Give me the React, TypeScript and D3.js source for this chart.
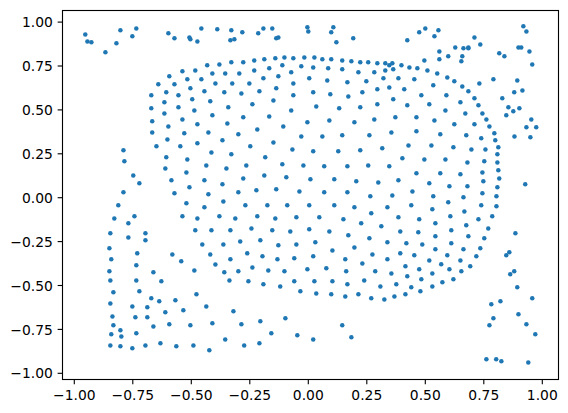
import React from "react";
import * as d3 from "d3";

const WIDTH = 568;
const HEIGHT = 413;
const tickValues = [-1, -0.75, -0.5, -0.25, 0, 0.25, 0.5, 0.75, 1];

const scatteredTop: [number, number][] = [
[-0.953,0.930],[-0.944,0.890],[-0.927,0.885],[-0.867,0.828],[-0.820,0.879],[-0.803,0.953],[-0.752,0.919],[-0.735,0.964],[-0.598,0.936],[-0.572,0.908],[-0.508,0.913],[-0.504,0.902],[-0.474,0.890],[-0.457,0.964],[-0.389,0.959],
[-0.329,0.953],[-0.333,0.896],[-0.316,0.902],[-0.282,0.942],[-0.214,0.936],[-0.192,0.964],[-0.154,0.964],[-0.137,0.908],[-0.128,0.913],[-0.004,0.970],[0.000,0.947],[0.098,0.942],[0.107,0.970],[0.120,0.885],[0.192,0.908],
[0.919,0.976],[0.932,0.947],[0.500,0.964],[0.474,0.942],[0.556,0.953],[0.539,0.919],[0.423,0.896],[0.710,0.913],[0.735,0.873],[0.560,0.833],[0.628,0.856],[0.663,0.851],[0.684,0.856],[0.684,0.851],[0.816,0.822],[0.838,0.805],[0.898,0.856],[0.910,0.856],[0.945,0.833],[0.957,0.759],[0.598,0.805],[0.560,0.788],[0.658,0.805],[0.654,0.777],[0.496,0.782],
[0.731,0.651],[0.791,0.674],[0.893,0.668],[0.880,0.600],[0.915,0.611],[0.829,0.566],[0.855,0.515],[0.876,0.492],[0.902,0.509],[0.846,0.469],[0.953,0.446],[0.932,0.401],[0.974,0.401],
];

const scatteredLeft: [number, number][] = [
[-0.790,0.270],[-0.786,0.207],[-0.748,0.127],[-0.722,0.082],[-0.790,0.031],[-0.812,-0.043],[-0.829,-0.118],[-0.743,-0.106],[-0.769,-0.146],[-0.846,-0.203],[-0.696,-0.203],[-0.769,-0.226],[-0.696,-0.243],[-0.850,-0.288],[-0.731,-0.317],[-0.842,-0.351],
[-0.735,-0.385],[-0.850,-0.419],[-0.662,-0.425],[-0.846,-0.471],[-0.735,-0.471],[-0.628,-0.476],[-0.833,-0.539],[-0.722,-0.533],[-0.478,-0.550],[-0.671,-0.573],[-0.637,-0.590],[-0.568,-0.584],[-0.846,-0.602],[-0.752,-0.619],[-0.688,-0.624],[-0.436,-0.619],[-0.534,-0.641],[-0.611,-0.653],[-0.837,-0.676],[-0.739,-0.681],[-0.688,-0.681],[-0.594,-0.721],[-0.833,-0.727],[-0.662,-0.733],[-0.504,-0.727],[-0.410,-0.715],[-0.803,-0.755],[-0.842,-0.778],[-0.799,-0.790],[-0.735,-0.772],[-0.846,-0.841],[-0.803,-0.846],[-0.752,-0.858],[-0.696,-0.841],[-0.632,-0.829],[-0.564,-0.846],[-0.491,-0.841],[-0.423,-0.869],
];

const scatteredBottom: [number, number][] = [
[-0.320,-0.647],[-0.286,-0.721],[-0.205,-0.704],[-0.098,-0.687],[-0.355,-0.807],[-0.274,-0.841],[-0.209,-0.829],[-0.158,-0.772],[-0.047,-0.784],[0.021,-0.807],[0.145,-0.727],[0.184,-0.795],
[0.927,0.076],[0.885,-0.203],[0.846,-0.328],[0.859,-0.311],[0.863,-0.436],[0.880,-0.419],[0.893,-0.510],[0.957,-0.573],[0.821,-0.590],[0.782,-0.607],[0.898,-0.664],[0.791,-0.687],[0.774,-0.727],[0.932,-0.721],[0.970,-0.778],[0.761,-0.920],[0.803,-0.920],[0.825,-0.932],[0.940,-0.938],
];

const blobUpperLeft: [number, number][] = [
[-0.432,0.754],[-0.380,0.759],[-0.538,0.720],[-0.483,0.725],[-0.410,0.708],[-0.594,0.691],[-0.517,0.674],[-0.457,0.674],[-0.397,0.651],[-0.641,0.646],[-0.572,0.646],[-0.504,0.623],[-0.444,0.606],[-0.607,0.600],[-0.671,0.583],[-0.555,0.583],[-0.615,0.543],[-0.496,0.560],[-0.419,0.549],[-0.671,0.509],[-0.555,0.515],[-0.487,0.497],[-0.615,0.480],[-0.410,0.469],[-0.667,0.435],[-0.538,0.446],[-0.598,0.406],[-0.474,0.418],
[-0.667,0.372],[-0.530,0.367],[-0.427,0.372],[-0.602,0.332],[-0.649,0.293],[-0.547,0.293],[-0.474,0.310],[-0.607,0.230],[-0.517,0.218],[-0.414,0.258],[-0.611,0.167],[-0.436,0.184],[-0.521,0.144],[-0.585,0.099],[-0.444,0.099],[-0.572,0.025],[-0.508,0.059],[-0.427,0.019],[-0.521,-0.032],[-0.444,-0.055],[-0.538,-0.106],[-0.474,-0.118],[-0.380,-0.106],[-0.483,-0.186],[-0.414,-0.186],[-0.453,-0.266],[-0.581,-0.323],[-0.419,-0.323],
[-0.543,-0.362],[-0.397,-0.380],[-0.487,-0.414],
];

const blobUpperMiddle: [number, number][] = [
[-0.329,0.771],[-0.278,0.771],[-0.231,0.782],[-0.188,0.788],[-0.141,0.794],[-0.102,0.799],[-0.064,0.794],[-0.017,0.799],[0.026,0.799],[0.060,0.788],[0.098,0.788],[0.145,0.782],[0.184,0.777],[0.222,0.771],[0.256,0.771],[0.295,0.765],[0.329,0.765],
[-0.355,0.708],[-0.295,0.708],[-0.231,0.725],[-0.167,0.737],[-0.111,0.754],[-0.073,0.714],[-0.030,0.748],[0.021,0.742],[0.085,0.737],[0.145,0.731],[0.214,0.714],[0.282,0.714],[0.329,0.725],
[-0.325,0.651],[-0.252,0.651],[-0.192,0.680],[-0.128,0.691],[-0.064,0.651],[0.004,0.680],[0.081,0.668],[0.167,0.657],[0.248,0.663],[0.321,0.680],
[-0.359,0.600],[-0.286,0.594],[-0.209,0.606],[-0.137,0.623],[-0.064,0.583],[0.021,0.600],[0.094,0.589],[0.171,0.577],[0.231,0.600],[0.295,0.617],
[-0.342,0.515],[-0.239,0.532],[-0.149,0.554],[-0.073,0.497],[0.034,0.520],[0.132,0.509],[0.222,0.515],[0.295,0.532],
[-0.346,0.423],[-0.278,0.458],[-0.167,0.463],[-0.107,0.406],[-0.004,0.429],[0.090,0.440],[0.197,0.429],[0.282,0.446],[-0.218,0.389],
];

const blobUpperRight: [number, number][] = [
[0.346,0.754],[0.359,0.765],[0.363,0.731],[0.398,0.754],[0.432,0.742],[0.466,0.737],[0.509,0.725],[0.551,0.708],[0.594,0.685],[0.624,0.663],[0.658,0.634],[0.684,0.606],[0.710,0.566],[0.727,0.526],[0.744,0.480],[0.761,0.446],[0.774,0.406],
[0.385,0.680],[0.453,0.674],[0.534,0.640],[0.410,0.617],[0.346,0.628],
[0.590,0.583],[0.483,0.583],[0.363,0.560],[0.650,0.543],[0.517,0.532],[0.423,0.526],[0.586,0.497],[0.671,0.480],[0.372,0.458],[0.462,0.458],[0.539,0.440],[0.624,0.418],[0.710,0.418],
];

const blobCentre: [number, number][] = [
[-0.299,0.361],[-0.030,0.349],[0.060,0.349],[0.145,0.355],[0.261,0.355],[-0.367,0.327],[-0.248,0.293],[-0.149,0.315],[-0.068,0.275],[0.021,0.264],[0.128,0.264],[0.222,0.270],[0.316,0.281],[-0.329,0.247],[-0.184,0.230],[-0.350,0.167],[-0.265,0.184],[-0.111,0.190],[-0.021,0.184],[0.068,0.179],[0.167,0.179],[0.256,0.184],
[-0.367,0.076],[-0.278,0.110],[-0.188,0.127],[-0.094,0.116],[0.009,0.105],[0.111,0.105],[0.205,0.093],[0.299,0.087],[-0.299,0.031],[-0.222,0.042],[-0.137,0.048],[-0.038,0.036],[0.068,0.031],[0.167,0.031],[0.265,0.008],
[-0.363,-0.021],[-0.269,-0.043],[-0.175,-0.043],[-0.090,-0.043],[0.004,-0.043],[0.111,-0.043],[0.197,-0.055],[0.338,-0.055],[0.269,-0.089],[-0.312,-0.118],[-0.218,-0.106],[-0.141,-0.118],[-0.051,-0.112],[0.047,-0.112],[0.150,-0.123],[0.226,-0.146],[0.312,-0.163],
[-0.333,-0.186],[-0.243,-0.175],[-0.154,-0.186],[-0.077,-0.192],[0.004,-0.180],[0.090,-0.192],[0.171,-0.214],[0.261,-0.231],[0.338,-0.254],[-0.363,-0.266],[-0.291,-0.249],[-0.205,-0.243],[-0.128,-0.271],[-0.051,-0.266],[0.030,-0.254],[0.103,-0.300],[0.197,-0.283],[0.274,-0.323],[0.338,-0.351],[-0.333,-0.351],[-0.261,-0.317],[-0.196,-0.334],[-0.132,-0.351],[-0.060,-0.345],[0.021,-0.334],[0.158,-0.351],
];

const blobRight: [number, number][] = [
[0.355,0.372],[0.462,0.378],[0.564,0.361],[0.675,0.355],[0.739,0.338],[0.795,0.367],[0.799,0.327],[0.881,0.349],[0.949,0.344],[0.428,0.298],[0.526,0.298],[0.620,0.287],[0.697,0.275],[0.757,0.275],[0.812,0.287],[0.808,0.247],[0.402,0.224],[0.496,0.218],[0.586,0.218],[0.680,0.201],[0.752,0.207],[0.808,0.201],[0.346,0.179],[0.812,0.156],[0.462,0.139],[0.564,0.139],[0.650,0.133],[0.744,0.144],[0.816,0.110],
[0.385,0.099],[0.517,0.082],[0.603,0.065],[0.680,0.065],[0.748,0.093],[0.808,0.059],[0.445,0.036],[0.359,0.013],[0.534,0.008],[0.663,0.002],[0.744,0.025],[0.804,0.008],[0.598,-0.026],[0.440,-0.043],[0.530,-0.066],[0.667,-0.078],[0.739,-0.043],[0.804,-0.049],
[0.385,-0.112],[0.474,-0.123],[0.607,-0.106],[0.727,-0.123],[0.786,-0.106],[0.543,-0.146],[0.675,-0.157],[0.769,-0.175],[0.393,-0.192],[0.470,-0.197],[0.611,-0.186],[0.543,-0.220],[0.684,-0.220],[0.752,-0.231],[0.419,-0.260],[0.487,-0.266],[0.611,-0.260],[0.663,-0.294],[0.735,-0.288],[0.543,-0.294],[0.393,-0.317],[0.453,-0.328],[0.594,-0.328],[0.718,-0.334],[0.517,-0.357],[0.650,-0.357],
];

const blobLower: [number, number][] = [
[-0.359,-0.425],[-0.299,-0.419],[-0.239,-0.397],[-0.171,-0.414],[-0.102,-0.419],[-0.004,-0.408],[0.077,-0.402],[0.162,-0.419],[0.231,-0.374],[0.286,-0.419],[-0.337,-0.471],[-0.256,-0.476],[-0.192,-0.493],[-0.120,-0.505],[-0.060,-0.476],[0.026,-0.476],[0.103,-0.476],[0.167,-0.493],[0.239,-0.471],[0.308,-0.505],[-0.034,-0.533],[0.034,-0.545],[0.098,-0.550],[0.158,-0.562],[0.214,-0.550],[0.269,-0.573],[0.325,-0.579],
[0.415,-0.391],[0.474,-0.408],[0.355,-0.431],[0.530,-0.431],[0.568,-0.379],[0.603,-0.408],[0.654,-0.419],[0.692,-0.391],[0.423,-0.448],[0.483,-0.465],[0.620,-0.465],[0.573,-0.482],[0.376,-0.493],[0.440,-0.510],[0.530,-0.505],[0.479,-0.533],[0.415,-0.550],[0.368,-0.562],
];

const allPoints = [...scatteredTop, ...scatteredLeft, ...scatteredBottom, ...blobUpperLeft, ...blobUpperMiddle, ...blobUpperRight, ...blobCentre, ...blobRight, ...blobLower];

const left = 62.5, right = 558.5, top = 10.5, bottom = 379.5;
const x = d3.scaleLinear().domain([-1.0504, 1.0692]).range([left, right]);
const y = d3.scaleLinear().domain([-1.0353, 1.0661]).range([bottom, top]);
const fmt = d3.format(".2f");
const font = "'DejaVu Sans', sans-serif";
const LW = 1.11;

export default function App() {
  return (
    <svg width={WIDTH} height={HEIGHT} style={{ position: "absolute", left: 0, top: 0, background: "#fff" }}>
      {allPoints.map(([a, b], i) => (
        <circle key={i} cx={x(a)} cy={y(b)} r={2.25} fill="#1f77b4" />
      ))}
      <rect x={left} y={top} width={right - left} height={bottom - top} fill="none" stroke="#000" strokeWidth={LW} />
      {tickValues.map((t) => (
        <g key={"x" + t}>
          <line x1={x(t)} x2={x(t)} y1={bottom} y2={bottom + 4.86} stroke="#000" strokeWidth={LW} />
          <text x={x(t)} y={bottom + 20.5} textAnchor="middle" fontFamily={font} fontSize={13.89} fill="#000">{fmt(t)}</text>
        </g>
      ))}
      {tickValues.map((t) => (
        <g key={"y" + t}>
          <line x1={left - 4.86} x2={left} y1={y(t)} y2={y(t)} stroke="#000" strokeWidth={LW} />
          <text x={left - 9.7} y={y(t) + 5.1} textAnchor="end" fontFamily={font} fontSize={13.89} fill="#000">{fmt(t)}</text>
        </g>
      ))}
    </svg>
  );
}
